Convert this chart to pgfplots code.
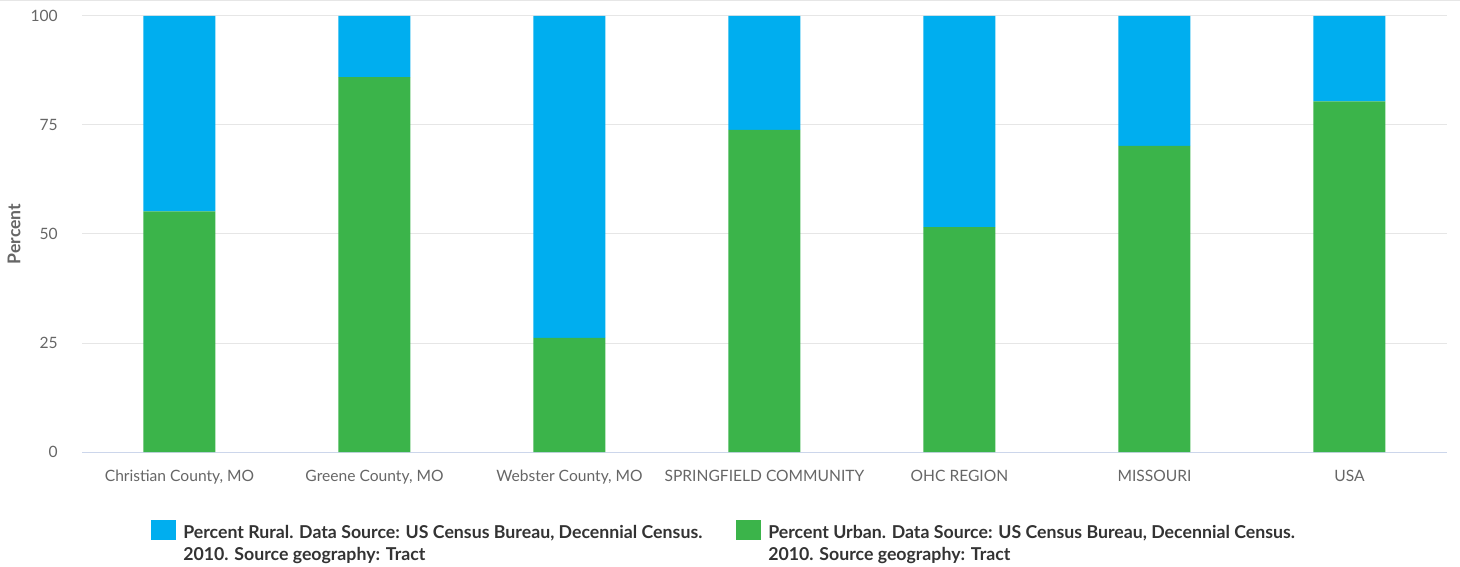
\documentclass[border=0pt]{standalone}
\usepackage{fontspec}
\setmainfont{Lato}
\usepackage{pgfplots}
\pgfplotsset{compat=1.18}
\definecolor{rural}{HTML}{00AEEF}
\definecolor{urban}{HTML}{3BB44A}
\definecolor{gridc}{HTML}{E6E6E6}
\definecolor{axisc}{HTML}{CCD6EB}
\definecolor{labc}{HTML}{666666}
\definecolor{legc}{HTML}{333333}
\begin{document}
\begin{tikzpicture}
\path[use as bounding box] (-61.5bp,-86.25bp) rectangle (1033.5bp,339bp);
\draw[gridc, line width=1.5bp] (-61.5bp,338.7bp) -- (1033.5bp,338.7bp);
\begin{axis}[
  at={(0,0)}, anchor=south west,
  scale only axis, width=1023.75bp, height=327bp,
  xmin=-0.5, xmax=6.5, ymin=0, ymax=100,
  ybar stacked, bar width=54bp,
  xtick={0,...,6},
  xticklabels={Christian County{,} MO, Greene County{,} MO, Webster County{,} MO, SPRINGFIELD COMMUNITY, OHC REGION, MISSOURI, USA},
  ytick={0,25,50,75,100},
  /pgf/number format/assume math mode=true,
  ymajorgrids, grid style={gridc, line width=0.75bp},
  axis x line*=bottom, axis y line*=left,
  y axis line style={draw=none},
  x axis line style={axisc, line width=0.75bp, -},
  xtick style={draw=none}, ytick style={draw=none},
  extra x ticks={-0.5,0.5,1.5,2.5,3.5,4.5,5.5,6.5},
  extra x tick labels={},
  extra x tick style={tick style={draw=axisc, line width=0.75bp}, major tick length=10.5bp, tick align=outside, xmajorgrids=false, ymajorgrids=false},
  ticklabel style={font=\fontsize{11.7bp}{13bp}\selectfont, text=labc},
  xticklabel style={anchor=base, yshift=-21.75bp},
  yticklabel style={anchor=east, inner sep=0pt, xshift=-18bp},
  ylabel={\bfseries Percent},
  ylabel style={at={(axis description cs:-0.0498,0.5)}, anchor=center, font=\fontsize{13.2bp}{14bp}\selectfont, text=labc},
  legend columns=2,
  reverse legend,
  legend style={at={(0,0)}, anchor=north west, xshift=51.75bp, yshift=-51bp, draw=none, inner sep=0pt,
    nodes={inner sep=0pt, text=legc},
    font=\fontsize{13.3bp}{16.5bp}\selectfont\bfseries,
    /tikz/every odd column/.append style={column sep=5.25bp}},
  legend image code/.code={\fill[#1] (0bp,-6bp) rectangle (18.75bp,8.5bp);},
]
\addplot[fill=urban, draw=none] coordinates {(0,55.2) (1,86.0) (2,26.2) (3,73.9) (4,51.6) (5,70.2) (6,80.4)};
\addlegendentry{\begin{tabular}[t]{@{}l@{}}Percent Urban. Data Source: US Census Bureau, Decennial Census.\\2010. Source geography: Tract\end{tabular}}
\addplot[fill=rural, draw=none] coordinates {(0,44.8) (1,14.0) (2,73.8) (3,26.1) (4,48.4) (5,29.8) (6,19.6)};
\addlegendentry{\makebox[414.75bp][l]{\begin{tabular}[t]{@{}l@{}}Percent Rural. Data Source: US Census Bureau, Decennial Census.\\2010. Source geography: Tract\end{tabular}}}
\end{axis}
\end{tikzpicture}
\end{document}
